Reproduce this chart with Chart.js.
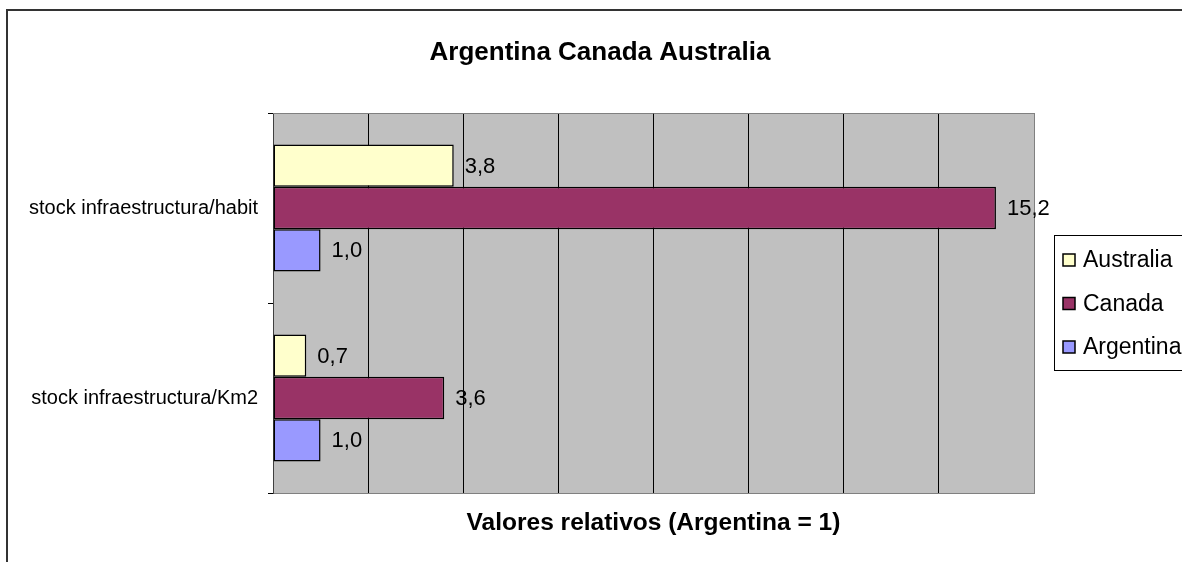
<!DOCTYPE html>
<html>
<head>
<meta charset="utf-8">
<script src="https://cdn.jsdelivr.net/npm/chart.js@4.4.1/dist/chart.umd.min.js"></script>
<style>
  html, body { margin: 0; padding: 0; background: #fff; }
  #wrap { width: 1182px; height: 562px; }
</style>
</head>
<body>
<div id="wrap"><canvas id="chart" width="1182" height="562"></canvas></div>
<script>
// ===== Data =====
const categories = ['stock infraestructura/habit', 'stock infraestructura/Km2'];
const seriesNames = ['Australia', 'Canada', 'Argentina'];
const australia = [3.8, 0.7];
const canada = [15.2, 3.6];
const argentina = [1.0, 1.0];
const xMin = 0;
const xMax = 16;
const xStep = 2;
const chartTitle = 'Argentina Canada Australia';
const axisTitle = 'Valores relativos (Argentina = 1)';

const FONT = "'Liberation Sans', Arial, sans-serif";

// ===== Plugins =====
const frame = {
  id: 'frame',
  beforeDraw(chart) {
    const { ctx, chartArea: a } = chart;
    ctx.save();
    ctx.strokeStyle = '#333';
    ctx.lineWidth = 2;
    ctx.strokeRect(7, 10, 1400, 800);
    ctx.fillStyle = '#c0c0c0';
    ctx.fillRect(a.left, a.top, a.right - a.left, a.bottom - a.top);
    ctx.restore();
  },
  afterDraw(chart) {
    const { ctx, chartArea: a } = chart;
    ctx.save();
    ctx.strokeStyle = '#808080';
    ctx.lineWidth = 1;
    ctx.beginPath();
    ctx.moveTo(a.left, a.top + 0.5);
    ctx.lineTo(a.right, a.top + 0.5);
    ctx.stroke();
    // chart title
    ctx.fillStyle = '#000';
    ctx.font = 'bold 26px ' + FONT;
    ctx.textAlign = 'center';
    ctx.textBaseline = 'middle';
    ctx.fillText(chartTitle, 600, 53);
    ctx.restore();
  }
};

const valueLabels = {
  id: 'valueLabels',
  afterDatasetsDraw(chart) {
    const { ctx } = chart;
    ctx.save();
    ctx.font = '22px ' + FONT;
    ctx.fillStyle = '#000';
    ctx.textAlign = 'left';
    ctx.textBaseline = 'middle';
    chart.data.datasets.forEach((ds, i) => {
      chart.getDatasetMeta(i).data.forEach((bar, j) => {
        const txt = ds.data[j].toFixed(1).replace('.', ',');
        ctx.fillText(txt, bar.x + 11, bar.y + 1);
      });
    });
    ctx.restore();
  }
};

const boxLegend = {
  id: 'boxLegend',
  afterDraw(chart) {
    const { ctx } = chart;
    const left = 1054, top = 235, bottom = 370;
    ctx.save();
    ctx.fillStyle = '#fff';
    ctx.fillRect(left, top, 200, bottom - top);
    ctx.strokeStyle = '#000';
    ctx.lineWidth = 1;
    ctx.strokeRect(left + 0.5, top + 0.5, 200, bottom - top);
    ctx.font = '23px ' + FONT;
    ctx.textBaseline = 'middle';
    chart.data.datasets.forEach((ds, i) => {
      const cy = 260 + i * 43.5;
      ctx.fillStyle = ds.backgroundColor;
      ctx.fillRect(1063, cy - 6, 12, 12);
      ctx.strokeStyle = '#000';
      ctx.lineWidth = 1.5;
      ctx.strokeRect(1063, cy - 6, 12, 12);
      ctx.fillStyle = '#000';
      ctx.fillText(ds.label, 1083, cy + 1);
    });
    ctx.restore();
  }
};

// ===== Chart =====
const ctx = document.getElementById('chart').getContext('2d');
new Chart(ctx, {
  type: 'bar',
  data: {
    labels: categories,
    datasets: [
      { label: seriesNames[0], data: australia, backgroundColor: '#ffffcc' },
      { label: seriesNames[1], data: canada, backgroundColor: '#993366' },
      { label: seriesNames[2], data: argentina, backgroundColor: '#9999ff' }
    ].map(d => Object.assign(d, {
      borderColor: '#000',
      borderWidth: 1.5,
      borderSkipped: false,
      categoryPercentage: 0.668,
      barPercentage: 1
    }))
  },
  options: {
    indexAxis: 'y',
    responsive: false,
    animation: false,
    layout: { padding: { left: 0, right: 148, top: 113, bottom: 24 } },
    plugins: {
      legend: { display: false },
      tooltip: { enabled: false },
      title: { display: false }
    },
    scales: {
      x: {
        min: xMin,
        max: xMax,
        ticks: { display: false, stepSize: xStep },
        grid: {
          color: c => (c.tick && c.tick.value === xMax ? '#808080' : '#000'),
          drawTicks: false
        },
        border: { display: true, color: '#808080' },
        title: {
          display: true,
          text: axisTitle,
          color: '#000',
          font: { family: FONT, size: 24.5, weight: 'bold' },
          padding: 0
        },
        afterFit: s => { s.height = 45; }
      },
      y: {
        ticks: {
          color: '#000',
          padding: 10,
          font: { family: FONT, size: 20 }
        },
        grid: {
          drawOnChartArea: false,
          drawTicks: true,
          tickLength: 5,
          color: '#000'
        },
        border: { display: true, color: '#404040' },
        afterFit: s => { s.width = 273; }
      }
    }
  },
  plugins: [frame, valueLabels, boxLegend]
});
</script>
</body>
</html>
